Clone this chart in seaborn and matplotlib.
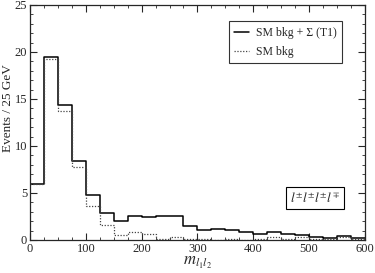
import matplotlib

matplotlib.use("Agg")

import matplotlib.pyplot as plt
from matplotlib.lines import Line2D
from matplotlib.ticker import MultipleLocator
import seaborn as sns

BIN_EDGES = list(range(0, 625, 25))
SIGNAL_PLUS_BKG = [6.0, 19.5, 14.4, 8.45, 4.75, 2.85, 2.0, 2.6, 2.45, 2.55,
                   2.5, 1.45, 1.05, 1.2, 1.05, 0.85, 0.65, 0.8, 0.6, 0.55,
                   0.35, 0.2, 0.4, 0.25]
SM_BKG = [5.9, 19.2, 13.7, 7.8, 3.6, 1.6, 0.55, 0.8, 0.6, 0.15,
          0.35, 0.1, 0.05, 0.0, 0.05, 0.0, 0.1, 0.3, 0.1, 0.3,
          0.1, 0.1, 0.3, 0.1]


def main() -> None:
    sns.set_theme(style="ticks")
    plt.rcParams["font.family"] = ["Liberation Serif", "DejaVu Serif"]
    plt.rcParams["mathtext.fontset"] = "stix"

    fig = plt.figure(figsize=(3.75, 2.73), dpi=100)
    ax = fig.add_axes([0.08, 0.121, 0.893, 0.861])

    centers = [e + 12.5 for e in BIN_EDGES[:-1]]
    sns.histplot(x=centers, weights=SIGNAL_PLUS_BKG, bins=BIN_EDGES,
                 element="step", fill=False, color="black", linewidth=1.1, ax=ax)
    sns.histplot(x=centers, weights=SM_BKG, bins=BIN_EDGES,
                 element="step", fill=False, color="#444444", linewidth=0.9,
                 linestyle=(0, (1, 1.3)), ax=ax)

    ax.set_xlim(0, 600)
    ax.set_ylim(0, 25)
    ax.xaxis.set_major_locator(MultipleLocator(100))
    ax.xaxis.set_minor_locator(MultipleLocator(25))
    ax.yaxis.set_major_locator(MultipleLocator(5))
    ax.yaxis.set_minor_locator(MultipleLocator(1))
    ax.tick_params(which="both", direction="in", top=True, right=True,
                   labelsize=9, pad=2)
    ax.tick_params(which="major", length=5, width=0.8)
    ax.tick_params(which="minor", length=2.5, width=0.6)
    for spine in ax.spines.values():
        spine.set_linewidth(0.9)

    ax.set_ylabel("Events / 25 GeV", fontsize=9.5)
    ax.yaxis.set_label_coords(-0.048, 0.56)
    ax.set_xlabel(r"$m_{l_{1}l_{2}}$", fontsize=12, labelpad=0)

    handles = [
        Line2D([0], [0], color="black", linewidth=1.1, label="SM bkg + Σ (T1)"),
        Line2D([0], [0], color="#444444", linewidth=0.9, linestyle=(0, (1, 1.3)),
               label="SM bkg"),
    ]
    leg = ax.legend(handles=handles, loc="upper right", bbox_to_anchor=(0.931, 0.93),
                    fontsize=8.5, frameon=True, fancybox=False, edgecolor="black",
                    handlelength=1.2, handletextpad=0.6, borderpad=0.45,
                    labelspacing=0.6, borderaxespad=0)
    leg.get_frame().set_linewidth(0.8)

    ax.text(0.851, 0.179, r"$l^{\pm}l^{\pm}l^{\pm}l^{\mp}$", transform=ax.transAxes,
            ha="center", va="center", fontsize=9.5,
            bbox=dict(boxstyle="square,pad=0.3", facecolor="white",
                      edgecolor="black", linewidth=0.8))

    fig.savefig("out.png", dpi=100)
    plt.close(fig)


if __name__ == "__main__":
    main()
